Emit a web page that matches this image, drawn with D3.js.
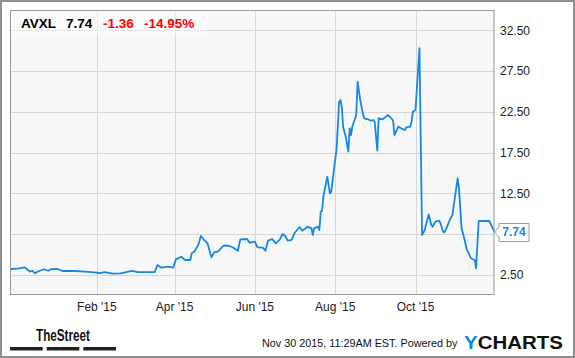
<!DOCTYPE html>
<html><head><meta charset="utf-8">
<script src="https://cdn.jsdelivr.net/npm/d3@7"></script>
<style>
html,body{margin:0;padding:0;background:#fff;}
svg{display:block;font-family:"Liberation Sans",Arial,sans-serif;}
</style></head>
<body>
<svg id="chart" width="575" height="358"></svg>
<script>
const dates = [
"2014-11-27","2014-12-04","2014-12-08","2014-12-10","2014-12-12","2014-12-14","2014-12-16","2014-12-18","2014-12-21","2014-12-23","2014-12-26","2014-12-28",
"2015-01-02","2015-01-06","2015-01-15","2015-01-23","2015-01-30",
"2015-02-03","2015-02-07","2015-02-13","2015-02-19","2015-02-25","2015-02-28",
"2015-03-04","2015-03-12","2015-03-17","2015-03-19","2015-03-22","2015-03-27","2015-03-31",
"2015-04-02","2015-04-06","2015-04-09","2015-04-13","2015-04-14","2015-04-16","2015-04-19","2015-04-21","2015-04-23","2015-04-26","2015-04-29",
"2015-05-01","2015-05-04","2015-05-08","2015-05-12","2015-05-15","2015-05-19","2015-05-21","2015-05-26","2015-05-28",
"2015-06-01","2015-06-03","2015-06-07","2015-06-09","2015-06-11","2015-06-14","2015-06-17","2015-06-20","2015-06-22","2015-06-24","2015-06-26","2015-06-29",
"2015-07-01","2015-07-05","2015-07-07","2015-07-11","2015-07-14","2015-07-15","2015-07-16","2015-07-19","2015-07-20","2015-07-21","2015-07-22","2015-07-23","2015-07-26","2015-07-28","2015-07-29","2015-07-31",
"2015-08-02","2015-08-04","2015-08-05","2015-08-06","2015-08-07","2015-08-09","2015-08-11","2015-08-12","2015-08-13","2015-08-14","2015-08-17","2015-08-18","2015-08-20","2015-08-22","2015-08-23","2015-08-26","2015-08-28","2015-08-30","2015-08-31",
"2015-09-02","2015-09-03","2015-09-06","2015-09-08","2015-09-10","2015-09-12","2015-09-14","2015-09-15","2015-09-18","2015-09-20","2015-09-23","2015-09-24","2015-09-27","2015-09-28","2015-09-29",
"2015-10-01","2015-10-04","2015-10-06","2015-10-08","2015-10-11","2015-10-13","2015-10-14","2015-10-16","2015-10-19","2015-10-20","2015-10-22","2015-10-23","2015-10-25","2015-10-27","2015-10-29",
"2015-11-02","2015-11-03","2015-11-05","2015-11-07","2015-11-09","2015-11-10","2015-11-12","2015-11-15","2015-11-16","2015-11-18","2015-11-26","2015-11-30"
];
const prices = [
3.16,3.28,3.40,3.16,2.86,2.98,2.66,2.86,3.07,3.16,2.98,3.16,
3.19,2.95,2.95,2.86,2.79,
2.70,2.82,2.62,2.66,2.86,2.95,
2.82,2.82,2.82,3.68,3.35,3.48,3.35,
4.38,4.70,4.30,4.30,5.12,5.32,6.14,7.25,6.84,6.35,4.63,
5.24,5.32,6.05,6.05,5.86,5.44,6.84,6.88,6.42,
6.55,5.86,5.81,5.44,6.67,6.88,6.35,6.84,7.49,7.25,6.67,6.76,
7.58,8.35,7.90,8.39,8.19,7.37,8.19,8.39,7.98,10.23,10.35,12.07,14.53,12.49,12.69,15.35,
17.81,23.74,23.95,23.12,20.67,19.44,17.60,20.47,19.65,20.67,22.10,26.19,23.95,22.31,21.70,21.58,21.40,21.49,21.28,
17.72,21.70,21.58,21.82,22.10,21.82,21.40,19.65,20.67,20.47,20.26,20.59,20.67,21.28,22.51,
22.72,30.30,7.37,7.98,9.91,8.60,8.39,9.00,9.12,8.80,7.77,7.70,8.39,9.21,9.82,
14.33,13.10,8.19,6.96,5.53,5.32,4.51,4.30,3.28,9.09,9.10,7.74
];
const xTickDates = ["2015-02-01","2015-04-01","2015-06-01","2015-08-01","2015-10-01"];
const xTickLabels = ["Feb '15","Apr '15","Jun '15","Aug '15","Oct '15"];
const yTicks = [2.5,7.5,12.5,17.5,22.5,27.5,32.5];
const yTickLabels = ["2.50","7.50","12.50","17.50","22.50","27.50","32.50"];
const ticker = "AVXL";
const lastPrice = "7.74";
const change = "-1.36";
const changePct = "-14.95%";
const xDomain = ["2014-11-27","2015-11-30"];
const yDomain = [0, 35];

const parse = d3.timeParse("%Y-%m-%d");
const data = dates.map((d,i)=>({date:parse(d), value:prices[i]}));

const L=10, R=494.5, T=10, B=295;
const svg = d3.select("#chart");
const x = d3.scaleTime().domain(xDomain.map(parse)).range([L, R]);
const y = d3.scaleLinear().domain(yDomain).range([B, T]);

// outer border
svg.append("rect").attr("x",1).attr("y",1).attr("width",573).attr("height",356)
  .attr("fill","#fff").attr("stroke","#8f8f8f").attr("stroke-width",2);

// plot background
svg.append("rect").attr("x",L).attr("y",T).attr("width",R-L).attr("height",B-T).attr("fill","#f7f7f7");

// grid
const grid = svg.append("g").attr("stroke","#d6d6d6").attr("stroke-width",1);
yTicks.forEach(v=>{
  const yy = Math.round(y(v))+0.5;
  grid.append("line").attr("x1",L).attr("x2",R).attr("y1",yy).attr("y2",yy);
});
xTickDates.forEach(d=>{
  const xx = Math.round(x(parse(d)))+0.5;
  grid.append("line").attr("x1",xx).attr("x2",xx).attr("y1",T).attr("y2",B);
});

// line
const line = d3.line().x(d=>x(d.date)).y(d=>y(d.value));
svg.append("path").datum(data).attr("d",line).attr("fill","none")
  .attr("stroke","#1787e5").attr("stroke-width",1.8).attr("stroke-linejoin","round");

// plot border
svg.append("rect").attr("x",L+0.5).attr("y",T+0.5).attr("width",R-L-1).attr("height",B-T-1)
  .attr("fill","none").attr("stroke","#9a9a9a").attr("stroke-width",1);

// callout geometry
const last = data[data.length-1];
const cx = x(last.date), cy = y(last.value);

// y labels (the one hidden behind the last-price callout is not drawn, as in the reference)
yTicks.forEach((v,i)=>{
  if (Math.abs(y(v)-cy) < 12) return;
  svg.append("text").attr("x",500).attr("y",y(v)).attr("dy","0.36em")
    .attr("font-size",12).attr("fill","#222").text(yTickLabels[i]);
});
// x labels
xTickDates.forEach((d,i)=>{
  svg.append("text").attr("x",x(parse(d))).attr("y",310.5).attr("text-anchor","middle")
    .attr("font-size",12).attr("fill","#222").text(xTickLabels[i]);
});

// callout
const bx = cx+4.5, bw = 30, bh = 18, by = Math.round(cy)-9+0.5;
svg.append("path")
  .attr("d",`M${cx},${cy} L${bx},${cy-5} L${bx},${by} L${bx+bw},${by} L${bx+bw},${by+bh} L${bx},${by+bh} L${bx},${cy+5} Z`)
  .attr("fill","#fff").attr("stroke","#999").attr("stroke-width",1);
svg.append("text").attr("x",bx+bw/2).attr("y",cy).attr("dy","0.36em").attr("text-anchor","middle")
  .attr("font-size",12).attr("font-weight","bold").attr("fill","#1787e5").text(lastPrice);

// title overlay
svg.append("rect").attr("x",L+1).attr("y",T+1).attr("width",196).attr("height",24)
  .attr("fill","#fff").attr("opacity",0.45);
const tg = svg.append("g").attr("font-size",13.5).attr("font-weight","bold");
tg.append("text").attr("x",21).attr("y",27.5).attr("fill","#000").text(ticker);
tg.append("text").attr("x",66).attr("y",27.5).attr("fill","#000").text(lastPrice);
tg.append("text").attr("x",103).attr("y",27.5).attr("fill","#f00").text(change);
tg.append("text").attr("x",144).attr("y",27.5).attr("fill","#f00").text(changePct);

// TheStreet logo
svg.append("text").attr("x",36).attr("y",341).attr("font-size",16).attr("font-weight","bold")
  .attr("fill","#111").attr("textLength",54).attr("lengthAdjust","spacingAndGlyphs").text("TheStreet");
[[10,42.7],[46.7,79.3],[83.3,116]].forEach(b=>{
  svg.append("rect").attr("x",b[0]).attr("y",347).attr("width",b[1]-b[0]).attr("height",3.5).attr("fill","#222");
});

// footer
svg.append("text").attr("x",262).attr("y",347).attr("font-size",10.8).attr("fill","#111")
  .text("Nov 30 2015, 11:29AM EST. Powered by");
const yc = svg.append("text").attr("x",464).attr("y",348.5).attr("font-size",18.5).attr("font-weight","bold")
  .attr("textLength",99).attr("lengthAdjust","spacingAndGlyphs");
yc.append("tspan").attr("fill","#1787e5").text("Y");
yc.append("tspan").attr("fill","#111").text("CHARTS");
</script>
</body></html>
